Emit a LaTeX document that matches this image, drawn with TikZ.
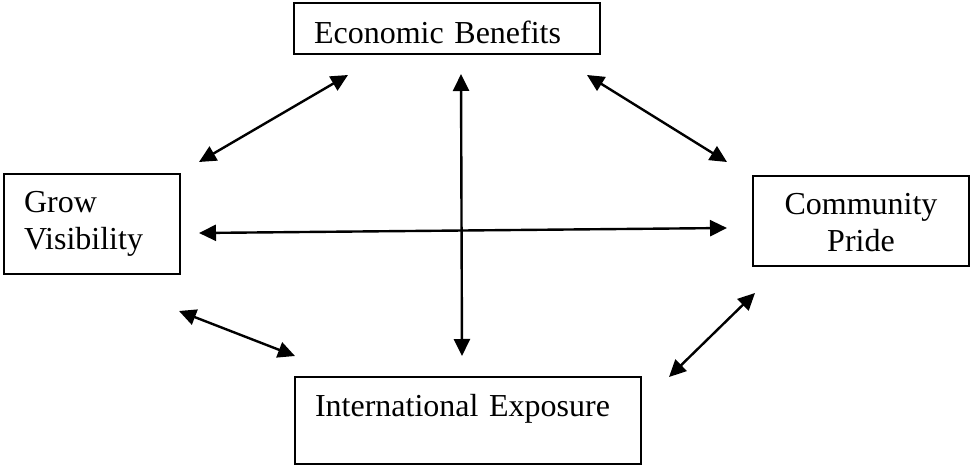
\documentclass[tikz,border=0pt]{standalone}
\usepackage{fontspec}
\setmainfont{Liberation Serif}
\usetikzlibrary{arrows.meta}

\begin{document}
\begin{tikzpicture}[x=1pt,y=-1pt,
  box/.style={draw,line width=1.4pt,inner ysep=0pt,inner xsep=20pt,
    font=\fontsize{32}{37}\selectfont},
  link/.style={{Triangle[length=17pt,width=16pt]}-{Triangle[length=17pt,width=16pt]},
    line width=2.4pt}]
  \useasboundingbox (0,0) rectangle (973,465);

  \node[box,text width=266pt,align=left,text height=41pt,text depth=10pt] (econ) at (447,28.5) {Economic Benefits};
  \node[box,text width=136pt,align=left,minimum height=100pt] (grow) at (92,224) {Grow\\Visibility};
  \node[box,text width=176pt,align=center,minimum height=90pt,yshift=-2pt,text height=25pt] (pride) at (861,219) {Community\\Pride};
  \node[box,text width=306pt,align=left,text height=39pt,text depth=48pt] (intl) at (468,420.5) {International Exposure};

  % arrow ends
  \coordinate (eg1) at (348,75);  \coordinate (eg2) at (199,162);
  \coordinate (ep1) at (587,75);  \coordinate (ep2) at (727,162);
  \coordinate (ei1) at (461,74);  \coordinate (ei2) at (462,356);
  \coordinate (gp1) at (199,233); \coordinate (gp2) at (727,228);
  \coordinate (gi1) at (179,311); \coordinate (gi2) at (295,356);
  \coordinate (pi1) at (755,293); \coordinate (pi2) at (669,377);

  \foreach \a in {eg,ep,ei,gp,gi,pi}
    \draw[link] (\a1) -- (\a2);
\end{tikzpicture}
\end{document}
